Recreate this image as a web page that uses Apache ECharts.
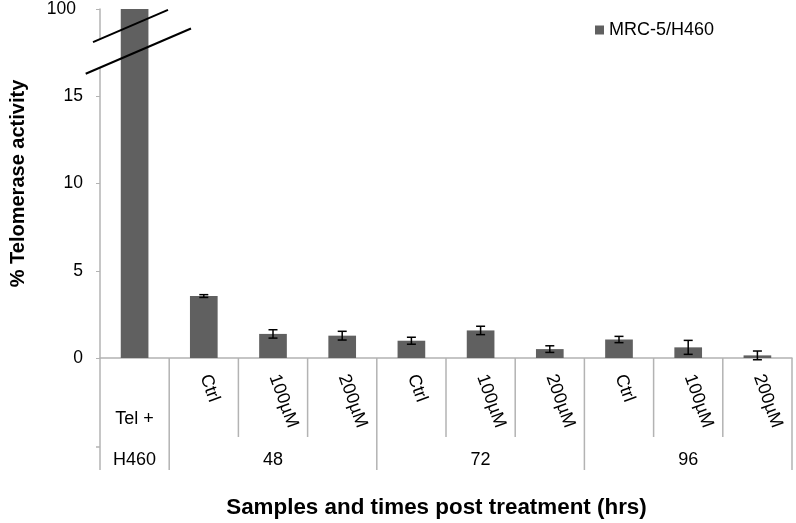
<!DOCTYPE html>
<html><head><meta charset="utf-8">
<script src="https://cdn.jsdelivr.net/npm/echarts@6/dist/echarts.min.js"></script>
<style>html,body{margin:0;padding:0;background:#fff}#c{width:796px;height:523px}</style>
</head><body><div id="c"></div>
<script>
// ---- data ----
const subLabels = ['Tel +','Ctrl','100µM','200µM','Ctrl','100µM','200µM','Ctrl','100µM','200µM'];
const groupLabels = ['H460','48','72','96'];
const groupSpans = [1,3,3,3];
const values = [100,3.55,1.38,1.28,0.99,1.58,0.51,1.06,0.61,0.15];
const errors = [null,0.08,0.24,0.25,0.20,0.24,0.19,0.18,0.40,0.25];
const yTicks = [0,5,10,15,20];            // axis top (20) stands for 100 on the broken axis
const yTickLabels = ['0','5','10','15','100'];
const seriesName = 'MRC-5/H460';
const yTitle = '% Telomerase activity';
const xTitle = 'Samples and times post treatment (hrs)';

const FONT = "'Liberation Sans', Arial, Helvetica, sans-serif";
const AX = '#b3b3b3';
const BAR = '#606060';
const FS = 18;
const yMax = yTicks[yTicks.length-1];
const plotValues = values.map(v => v > yMax ? yMax : v);
const catIds = subLabels.map((s,i)=>'c'+i);
const errData = [];
errors.forEach((e,i)=>{ if(e!=null) errData.push([i, values[i], e]); });

const chart = echarts.init(document.getElementById('c'), null, {renderer:'canvas'});
const option = {
  animation:false,
  grid:{left:97, top:8, width:695, height:350, containLabel:false},
  legend:{
    data:[seriesName], left:590, top:16, icon:'rect', itemWidth:9, itemHeight:9,
    textStyle:{fontSize:FS, fontFamily:FONT, color:'#000'}
  },
  xAxis:{
    type:'category', data:catIds, boundaryGap:true,
    axisLine:{lineStyle:{color:AX, width:1.5}},
    axisTick:{show:false}, axisLabel:{show:false}
  },
  yAxis:{
    type:'value', min:0, max:yMax, interval:5,
    splitLine:{show:false},
    axisLine:{show:true, lineStyle:{color:AX, width:1.5}},
    axisTick:{show:true, length:4, lineStyle:{color:AX}},
    axisLabel:{margin:17, fontSize:17.5, fontFamily:FONT, color:'#000',
      formatter:v=>{const k=yTicks.indexOf(v); if(k<0) return ''; return v===yMax?'{top|'+yTickLabels[k]+'}':yTickLabels[k];},
      rich:{top:{fontSize:17.5, fontFamily:FONT, color:'#000', padding:[0,7,0,0]}}},
    name:yTitle, nameLocation:'middle', nameGap:72,
    nameTextStyle:{fontSize:20, fontWeight:'bold', fontFamily:FONT, color:'#000'}
  },
  series:[
    {name:seriesName, type:'bar', data:plotValues, barWidth:'40%', itemStyle:{color:BAR}},
    {type:'custom', data:errData, encode:{x:0,y:1}, z:5, clip:false,
      renderItem:(params, api)=>{
        const i=api.value(0), v=api.value(1), e=api.value(2);
        const t=api.coord([i, v+e]), b=api.coord([i, v-e]);
        const w=4.5, st={stroke:'#000', lineWidth:1.5};
        return {type:'group', children:[
          {type:'line', shape:{x1:t[0],y1:t[1],x2:b[0],y2:b[1]}, style:st},
          {type:'line', shape:{x1:t[0]-w,y1:t[1],x2:t[0]+w,y2:t[1]}, style:st},
          {type:'line', shape:{x1:b[0]-w,y1:b[1],x2:b[0]+w,y2:b[1]}, style:st}
        ]};
      }}
  ]
};
chart.setOption(option);

// ---- multi-level category labels, separators, axis break ----
const px = (i,v)=>chart.convertToPixel({gridIndex:0},[i,v]);
const bw = px(1,0)[0]-px(0,0)[0];
const y0 = px(0,0)[1];
const xLeft = px(0,0)[0]-bw/2;
const g = [];
const lineSt = {stroke:AX, lineWidth:1.5};
const groupEnds = [0];
groupSpans.reduce((a,s)=>{groupEnds.push(a+s); return a+s;},0);
for(let k=0;k<=subLabels.length;k++){
  const x = xLeft + k*bw;
  const isGroup = groupEnds.indexOf(k)>=0;
  g.push({type:'line', z:50, shape:{x1:x,y1:y0,x2:x,y2:y0+(isGroup?112:79)}, style:lineSt});
}
g.push({type:'line', z:50, shape:{x1:xLeft-4,y1:y0+89,x2:xLeft,y2:y0+89}, style:lineSt});
subLabels.forEach((s,i)=>{
  const cx = px(i,0)[0];
  if(i===0){
    g.push({type:'text', z:50, x:cx, y:y0+61, style:{text:s, fontSize:FS, fontFamily:FONT, fill:'#000', align:'center', verticalAlign:'middle'}});
  } else {
    g.push({type:'text', z:50, x:cx+1, y:y0+17, rotation:-70*Math.PI/180,
      style:{text:s, fontSize:FS, fontFamily:FONT, fill:'#000', align:'left', verticalAlign:'middle'}});
  }
});
let start=0;
groupLabels.forEach((lab,j)=>{
  const a = px(start,0)[0], b = px(start+groupSpans[j]-1,0)[0];
  g.push({type:'text', z:50, x:(a+b)/2, y:y0+102, style:{text:lab, fontSize:FS, fontFamily:FONT, fill:'#000', align:'center', verticalAlign:'middle'}});
  start += groupSpans[j];
});
// x axis title
g.push({type:'text', z:50, x:436.5, y:508, style:{text:xTitle, fontSize:22.4, fontWeight:'bold', fontFamily:FONT, fill:'#000', align:'center', verticalAlign:'middle'}});
// axis break marks
const ax = xLeft;
const yb1 = px(0,18.27)[1], yb2 = px(0,16.64)[1];
const s = 0.43;
const ly = (yb, dx)=> yb - dx*s;
g.push({type:'polygon', z:60, shape:{points:[[ax-5,ly(yb1,-5)],[ax+6,ly(yb1,6)],[ax+6,ly(yb2,6)],[ax-5,ly(yb2,-5)]]}, style:{fill:'#fff'}});
g.push({type:'line', z:61, shape:{x1:ax-7,y1:ly(yb1,-7),x2:ax+68,y2:ly(yb1,68)}, style:{stroke:'#000', lineWidth:2}});
g.push({type:'line', z:61, shape:{x1:ax-14.3,y1:ly(yb2,-14.3),x2:ax+91,y2:ly(yb2,91)}, style:{stroke:'#000', lineWidth:2}});
chart.setOption({graphic:g});
</script></body></html>
